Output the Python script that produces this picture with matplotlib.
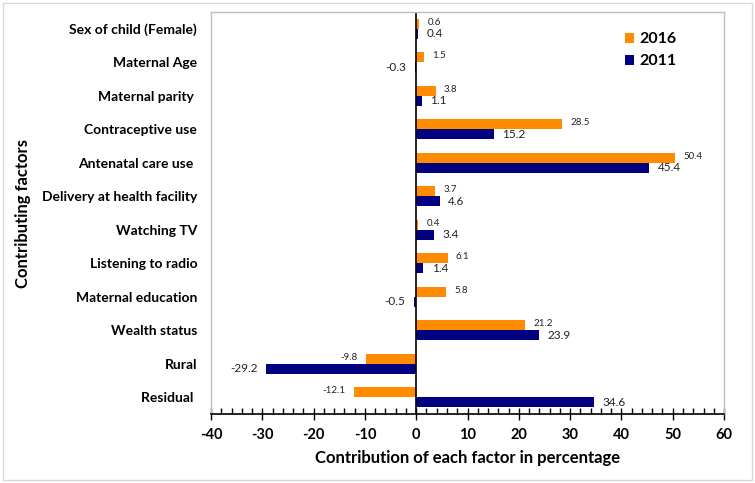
import matplotlib
matplotlib.use("Agg")
import matplotlib.pyplot as plt
from matplotlib.ticker import MultipleLocator
from matplotlib.patches import Rectangle
import numpy as np

plt.rcParams['font.family'] = ['Lato', 'DejaVu Sans']
plt.rcParams['axes.unicode_minus'] = False

categories = ["Sex of child (Female)", "Maternal Age", "Maternal parity ", "Contraceptive use",
              "Antenatal care use ", "Delivery at health facility", "Watching TV",
              "Listening to radio", "Maternal education", "Wealth status", "Rural", "Residual "]
v2016 = [0.6, 1.5, 3.8, 28.5, 50.4, 3.7, 0.4, 6.1, 5.8, 21.2, -9.8, -12.1]
v2011 = [0.4, -0.3, 1.1, 15.2, 45.4, 4.6, 3.4, 1.4, -0.5, 23.9, -29.2, 34.6]
lab2016 = ["0.6", "1.5", "3.8", "28.5", "50.4", "3.7", "0.4", "6.1", "5.8", "21.2", "-9.8", "-12.1"]
lab2011 = ["0.4", "-0.3", "1.1", "15.2", "45.4", "4.6", "3.4", "1.4", "-0.5", "23.9", "-29.2", "34.6"]

c2016 = "#FF8C00"
c2011 = "#000080"

fig = plt.figure(figsize=(7.55, 4.83), dpi=100)
fig.patches.append(Rectangle((0.004, 0.006), 0.992, 0.988, transform=fig.transFigure,
                             fill=False, edgecolor="#d9d9d9", linewidth=1.0))
ax = fig.add_axes([0.2795, 0.1429, 0.6795, 0.8321])

y = np.arange(len(categories))
h = 0.3
ax.barh(y - h / 2, v2016, height=h, color=c2016, label="2016")
ax.barh(y + h / 2, v2011, height=h, color=c2011, label="2011")

for yi, v, t in zip(y, v2016, lab2016):
    off = 6 if v >= 0 else -6
    ax.annotate(t, (v, yi - h / 2), xytext=(off, 1), textcoords="offset points",
                ha="left" if v >= 0 else "right", va="center", fontsize=7, color="#222222")
for yi, v, t in zip(y, v2011, lab2011):
    off = 6 if v >= 0 else -6
    ax.annotate(t, (v, yi + h / 2), xytext=(off, 0), textcoords="offset points",
                ha="left" if v >= 0 else "right", va="center", fontsize=8.5, color="#222222")

ax.set_xlim(-40, 60)
ax.set_ylim(len(categories) - 0.5, -0.5)
ax.axvline(0, color="black", linewidth=1.2)

ax.set_yticks(y)
ax.set_yticklabels(categories, fontsize=10, fontweight="bold")
ax.tick_params(axis="y", length=0, pad=10)

ax.xaxis.set_major_locator(MultipleLocator(10))
ax.xaxis.set_minor_locator(MultipleLocator(2))
ax.tick_params(axis="x", which="major", direction="inout", length=8, width=1.0, labelsize=10.5, pad=6)
ax.tick_params(axis="x", which="minor", direction="in", length=4, width=1.0)
for lbl in ax.get_xticklabels():
    lbl.set_fontweight("bold")

for s in ["left", "top", "right"]:
    ax.spines[s].set_color("#bfbfbf")
    ax.spines[s].set_linewidth(1.0)
ax.spines["bottom"].set_color("black")
ax.spines["bottom"].set_linewidth(1.2)

ax.set_xlabel("Contribution of each factor in percentage", fontsize=12, fontweight="bold", labelpad=6)
ax.set_ylabel("Contributing factors", fontsize=12, fontweight="bold", labelpad=8)

ax.legend(loc="upper right", bbox_to_anchor=(0.935, 0.985), frameon=False,
          prop={"weight": "bold", "size": 11.5}, handlelength=0.6, handleheight=0.6,
          handletextpad=0.3, labelspacing=0.5)

fig.savefig("out.png", dpi=100)
